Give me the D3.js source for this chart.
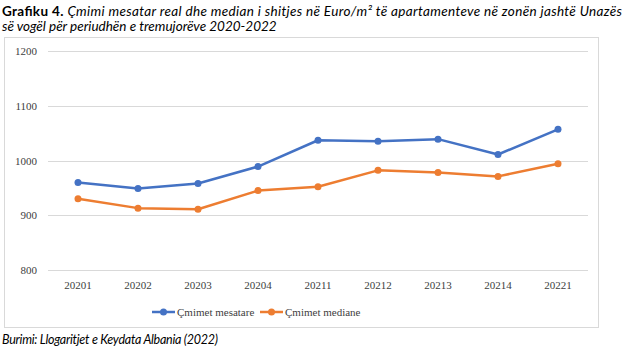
<!DOCTYPE html>
<html>
<head>
<meta charset="utf-8">
<script src="https://cdn.jsdelivr.net/npm/d3@7"></script>
<style>
  body { margin: 0; background: #fff; }
  svg { display: block; }
</style>
</head>
<body>
<div id="chart"></div>
<script>
// quarters (year + quarter number)
const quarters = ['20201', '20202', '20203', '20204', '20211', '20212', '20213', '20214', '20221'];
// average price, Euro/m2
const mesatare = [960, 949, 958, 989, 1037, 1035, 1039, 1011, 1057];
// median price, Euro/m2
const mediane = [930, 913, 911, 945, 952, 982, 978, 971, 994];
const yTicks = [800, 900, 1000, 1100, 1200];
const seriesNames = ['Çmimet mesatare', 'Çmimet mediane'];
const colors = ['#4472C4', '#ED7D31'];

const serifFont = 'Liberation Serif, DejaVu Serif, Times New Roman, serif';

const W = 632, H = 353;
const svg = d3.select('#chart').append('svg')
    .attr('width', W)
    .attr('height', H);

// title
const title = svg.append('text')
    .attr('x', 2).attr('y', 16)
    .attr('textLength', 620)
    .attr('font-family', 'Lato, sans-serif')
    .attr('font-size', 13.5)
    .attr('fill', '#000');
title.append('tspan').attr('font-weight', 'bold').text('Grafiku 4. ');
title.append('tspan').attr('font-style', 'italic')
    .text('Çmimi mesatar real dhe median i shitjes në Euro/m² të apartamenteve në zonën jashtë Unazës');
svg.append('text')
    .attr('x', 2).attr('y', 31)
    .attr('font-family', 'Lato, sans-serif')
    .attr('font-size', 13.5)
    .attr('font-style', 'italic')
    .text('së vogël për periudhën e tremujorëve 2020-2022');

// chart frame
svg.append('rect')
    .attr('x', 4.5).attr('y', 37.5)
    .attr('width', 594).attr('height', 290)
    .attr('fill', '#fff')
    .attr('stroke', '#d9d9d9');

const x = d3.scalePoint()
    .domain(quarters)
    .range([78, 558]);

const y = d3.scaleLinear()
    .domain([800, 1200])
    .range([270, 51]);

// gridlines
svg.append('g')
    .selectAll('line')
    .data(yTicks)
    .enter().append('line')
    .attr('x1', 48).attr('x2', 588)
    .attr('y1', d => Math.round(y(d)) + 0.5)
    .attr('y2', d => Math.round(y(d)) + 0.5)
    .attr('stroke', '#d9d9d9');

// y labels
svg.append('g')
    .attr('font-family', serifFont)
    .attr('font-size', 11)
    .attr('fill', '#404040')
    .selectAll('text')
    .data(yTicks)
    .enter().append('text')
    .attr('x', 37)
    .attr('y', d => y(d) + 4)
    .attr('text-anchor', 'end')
    .text(d => d);

// x labels
svg.append('g')
    .attr('font-family', serifFont)
    .attr('font-size', 11)
    .attr('fill', '#404040')
    .selectAll('text')
    .data(quarters)
    .enter().append('text')
    .attr('x', d => x(d))
    .attr('y', 289)
    .attr('text-anchor', 'middle')
    .text(d => d);

const series = [mesatare, mediane];
const line = d3.line()
    .x((d, i) => x(quarters[i]))
    .y(d => y(d));

series.forEach((vals, s) => {
    svg.append('path')
        .datum(vals)
        .attr('d', line)
        .attr('fill', 'none')
        .attr('stroke', colors[s])
        .attr('stroke-width', 2.5)
        .attr('stroke-linejoin', 'round');
    svg.append('g')
        .selectAll('circle')
        .data(vals)
        .enter().append('circle')
        .attr('cx', (d, i) => x(quarters[i]))
        .attr('cy', d => y(d))
        .attr('r', 3.5)
        .attr('fill', colors[s]);
});

// legend
const legendX = [152, 260];
seriesNames.forEach((name, s) => {
    const g = svg.append('g').attr('transform', `translate(${legendX[s]},312)`);
    g.append('line')
        .attr('x1', 0).attr('x2', 23)
        .attr('stroke', colors[s])
        .attr('stroke-width', 2.5);
    g.append('circle')
        .attr('cx', 11.5).attr('r', 3.5)
        .attr('fill', colors[s]);
    g.append('text')
        .attr('x', 25).attr('y', 4)
        .attr('font-family', serifFont)
        .attr('font-size', 11)
        .attr('fill', '#404040')
        .text(name);
});

// source
svg.append('text')
    .attr('x', 2).attr('y', 344)
    .attr('textLength', 216)
    .attr('font-family', 'Lato, sans-serif')
    .attr('font-size', 12.5)
    .attr('font-style', 'italic')
    .text('Burimi: Llogaritjet e Keydata Albania (2022)');
</script>
</body>
</html>
